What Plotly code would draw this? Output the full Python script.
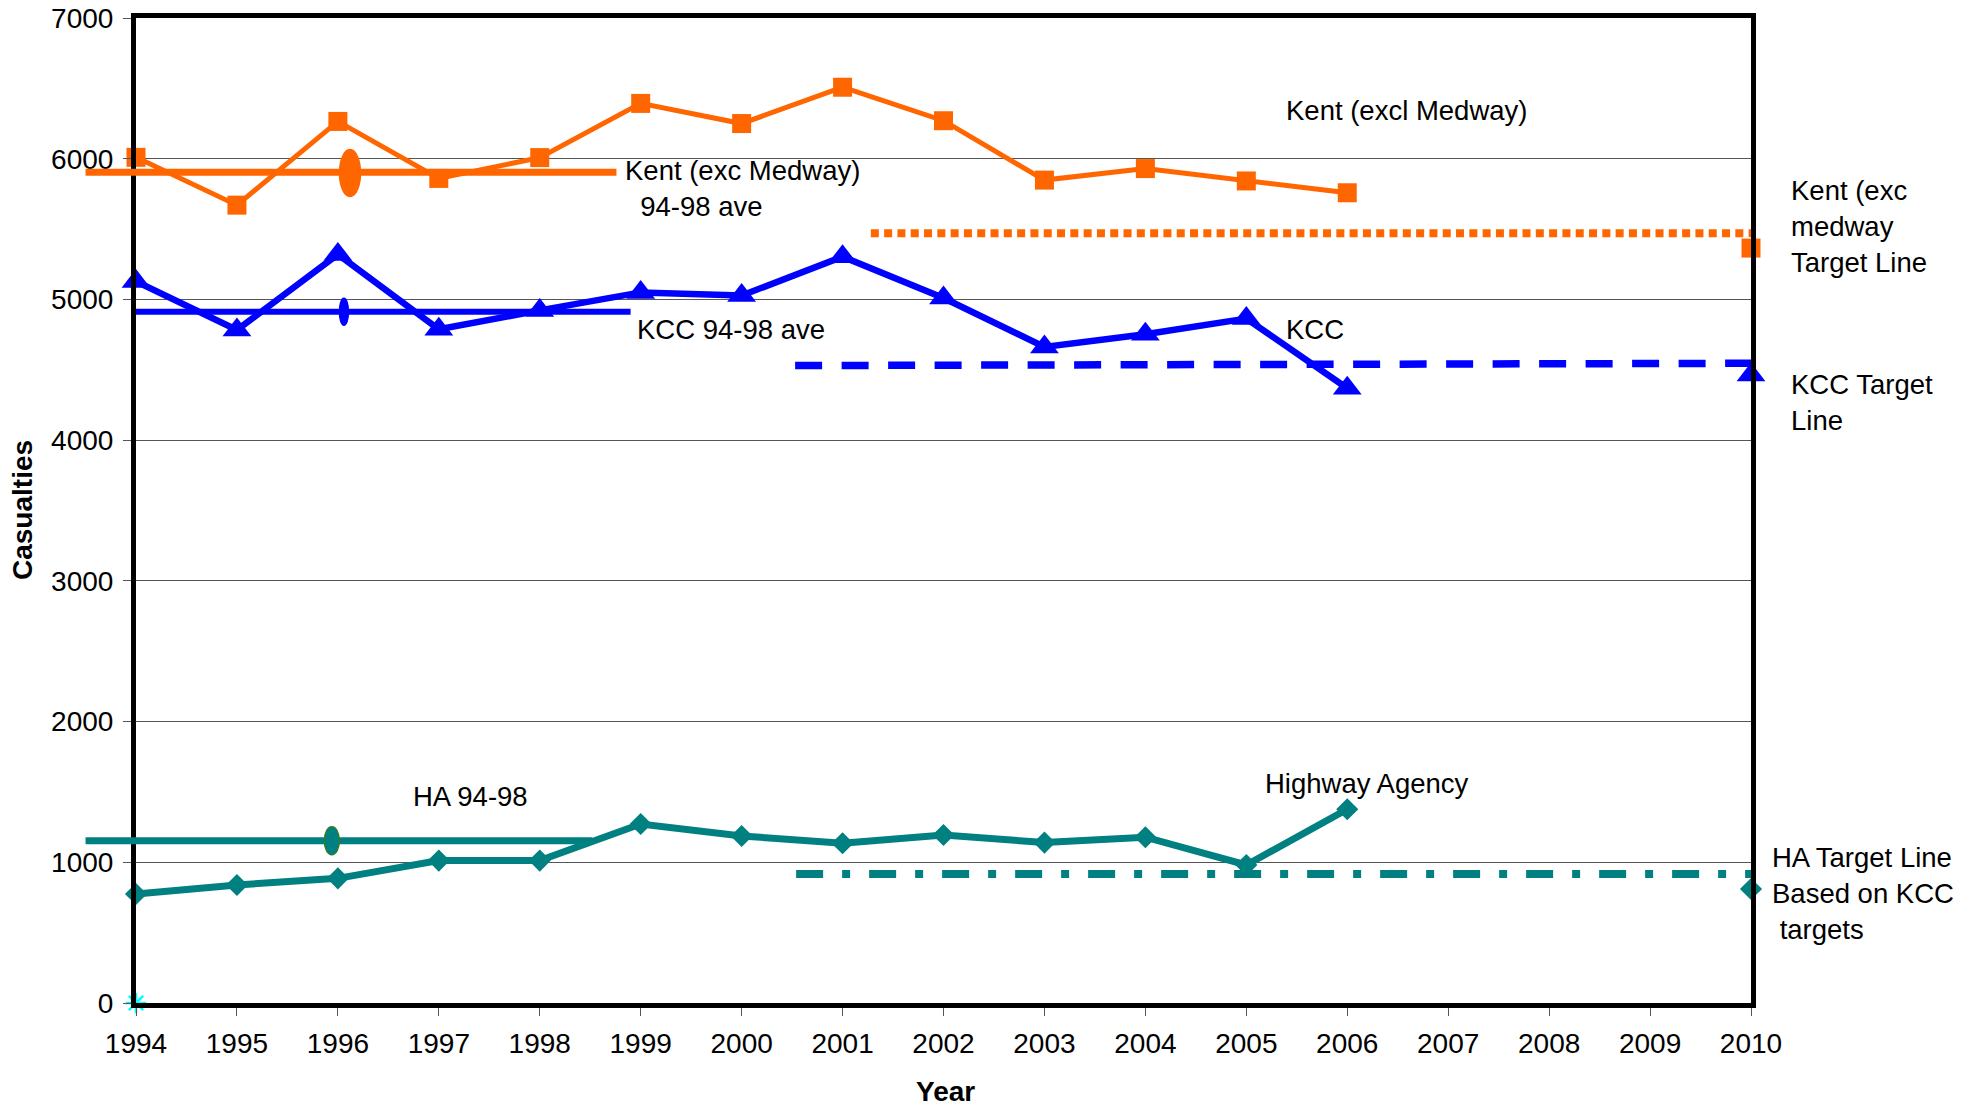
import plotly.graph_objects as go

# ---------------- data ----------------
years = list(range(1994, 2007))
kent = [6010, 5670, 6265, 5860, 6008, 6393, 6250, 6508, 6270, 5848, 5930, 5842, 5758]
kcc = [5128, 4783, 5320, 4788, 4922, 5050, 5028, 5304, 5010, 4662, 4752, 4864, 4369]
ha = [775, 839, 886, 1012, 1012, 1272, 1187, 1135, 1194, 1140, 1178, 981, 1377]

target_year = [2010]
kent_target_point = [5365]
kcc_target_point = [4463]
ha_target_point = [810]

kent_target_line_x = [2001.28, 2010]
kent_target_line_y = [5470, 5470]
kcc_target_line_x = [2000.53, 2010]
kcc_target_line_y = [4530, 4546]
ha_target_line_x = [2000.54, 2010]
ha_target_line_y = [917, 917]

kent_ave_x = [1993.5, 1998.76]
kent_ave_y = [5903, 5903]
kcc_ave_x = [1994.0, 1998.9]
kcc_ave_y = [4913, 4913]
ha_ave_x = [1993.5, 1998.52]
ha_ave_y = [1153, 1153]

ave_mark_x = [1996.12, 1996.06, 1995.94]
ave_mark_y = [5898, 4913, 1153]

origin_x = [1994]
origin_y = [0]

x_ticks = list(range(1994, 2011))
y_ticks = [0, 1000, 2000, 3000, 4000, 5000, 6000, 7000]

# ---------------- styling ----------------
ORANGE = "#FF6600"
BLUE = "#0000FF"
TEAL = "#008080"
FONT = "Liberation Sans, Arial, sans-serif"

W, H = 1978, 1108
L_PX, R_PX, T_PX, B_PX = 136, 1751, 18, 1003
EXT_L_PX = 60
px_per_year = (R_PX - L_PX) / (x_ticks[-1] - x_ticks[0])

SQ, TRI, DIA = 19, 25, 17

fig = go.Figure()

# 94-98 averages (on a wider, hidden subplot so they can extend left of the axis)
fig.add_trace(go.Scatter(x=kent_ave_x, y=kent_ave_y, mode="lines",
                         line=dict(color=ORANGE, width=7), xaxis="x2", yaxis="y2"))
fig.add_trace(go.Scatter(x=kcc_ave_x, y=kcc_ave_y, mode="lines",
                         line=dict(color=BLUE, width=6), xaxis="x2", yaxis="y2"))
fig.add_trace(go.Scatter(x=ha_ave_x, y=ha_ave_y, mode="lines",
                         line=dict(color=TEAL, width=7), xaxis="x2", yaxis="y2"))

# target lines
fig.add_trace(go.Scatter(x=kent_target_line_x, y=kent_target_line_y, mode="lines",
                         line=dict(color=ORANGE, width=8, dash="8px,5.3px"),
                         xaxis="x", yaxis="y"))
fig.add_trace(go.Scatter(x=kcc_target_line_x, y=kcc_target_line_y, mode="lines",
                         line=dict(color=BLUE, width=7.5, dash="27px,19.5px"),
                         xaxis="x", yaxis="y"))
fig.add_trace(go.Scatter(x=ha_target_line_x, y=ha_target_line_y, mode="lines",
                         line=dict(color=TEAL, width=8, dash="27px,19px,8px,19px"),
                         xaxis="x", yaxis="y"))

# main data lines
fig.add_trace(go.Scatter(x=years, y=kent, mode="lines+markers",
                         line=dict(color=ORANGE, width=5),
                         marker=dict(symbol="square", size=SQ, color=ORANGE, line=dict(width=0)),
                         cliponaxis=False, xaxis="x", yaxis="y"))
fig.add_trace(go.Scatter(x=years, y=kcc, mode="lines+markers",
                         line=dict(color=BLUE, width=6.5),
                         marker=dict(symbol="triangle-up", size=TRI, color=BLUE, line=dict(width=0)),
                         cliponaxis=False, xaxis="x", yaxis="y"))
fig.add_trace(go.Scatter(x=years, y=ha, mode="lines+markers",
                         line=dict(color=TEAL, width=7),
                         marker=dict(symbol="diamond", size=DIA, color=TEAL, line=dict(width=0)),
                         cliponaxis=False, xaxis="x", yaxis="y"))

# target points at 2010
fig.add_trace(go.Scatter(x=target_year, y=kent_target_point, mode="markers",
                         marker=dict(symbol="square", size=SQ, color=ORANGE, line=dict(width=0)),
                         cliponaxis=False, xaxis="x", yaxis="y"))
fig.add_trace(go.Scatter(x=target_year, y=kcc_target_point, mode="markers",
                         marker=dict(symbol="triangle-up", size=TRI, color=BLUE, line=dict(width=0)),
                         cliponaxis=False, xaxis="x", yaxis="y"))
fig.add_trace(go.Scatter(x=target_year, y=ha_target_point, mode="markers",
                         marker=dict(symbol="diamond", size=DIA, color=TEAL, line=dict(width=0)),
                         cliponaxis=False, xaxis="x", yaxis="y"))

# origin star
fig.add_trace(go.Scatter(x=origin_x, y=origin_y, mode="markers",
                         marker=dict(symbol="asterisk-open", size=17, color="#00FFFF",
                                     line=dict(color="#00FFFF", width=2.5)),
                         cliponaxis=False, xaxis="x", yaxis="y"))

# ellipse markers on the averages
ell_w_px = [21, 9, 15]
ell_h_px = [47, 27, 28]
ell_fill = [ORANGE, BLUE, TEAL]
ell_line = [ORANGE, BLUE, "#2E7D32"]
y_per_px = (y_ticks[-1] - y_ticks[0]) / (B_PX - T_PX)
for cx, cy, wp, hp, fc, lc in zip(ave_mark_x, ave_mark_y, ell_w_px, ell_h_px, ell_fill, ell_line):
    dx = wp / 2 / px_per_year
    dy = hp / 2 * y_per_px
    fig.add_shape(type="circle", xref="x2", yref="y2",
                  x0=cx - dx, x1=cx + dx, y0=cy - dy, y1=cy + dy,
                  fillcolor=fc, line=dict(color=lc, width=1.5), layer="above")

tick_font = dict(family=FONT, size=28, color="black")
fig.update_layout(
    template="none",
    width=W, height=H,
    margin=dict(l=0, r=0, t=0, b=0, pad=0, autoexpand=False),
    paper_bgcolor="white", plot_bgcolor="rgba(0,0,0,0)",
    showlegend=False,
    xaxis=dict(domain=[L_PX / W, R_PX / W], range=[x_ticks[0], x_ticks[-1]],
               tickvals=x_ticks, ticktext=[str(v) for v in x_ticks],
               ticks="outside", ticklen=8, tickwidth=1, tickcolor="#555555",
               showline=True, linecolor="black", linewidth=5, mirror=True,
               showgrid=False, zeroline=False, tickfont=tick_font, automargin=False,
               ticklabelstandoff=3, fixedrange=True),
    yaxis=dict(domain=[1 - B_PX / H, 1 - T_PX / H], range=[y_ticks[0], y_ticks[-1]],
               tickvals=y_ticks, ticktext=[str(v) for v in y_ticks],
               ticks="outside", ticklen=8, tickwidth=1, tickcolor="#555555",
               showline=True, linecolor="black", linewidth=5, mirror=True,
               showgrid=True, gridcolor="#555555", gridwidth=1.2, zeroline=False,
               tickfont=tick_font, ticklabelstandoff=4, automargin=False, fixedrange=True),
    xaxis2=dict(domain=[EXT_L_PX / W, R_PX / W],
                range=[x_ticks[0] - (L_PX - EXT_L_PX) / px_per_year, x_ticks[-1]],
                visible=False, anchor="y2", fixedrange=True, automargin=False),
    yaxis2=dict(domain=[1 - B_PX / H, 1 - T_PX / H], range=[y_ticks[0], y_ticks[-1]],
                visible=False, anchor="x2", fixedrange=True, automargin=False),
)

ann_font = dict(family=FONT, size=27.5, color="black")
# labels inside the plot (data coordinates)
labels_in = [
    ("Kent (excl Medway)", 2005.37, 6346),
    ("Kent (exc Medway)<br>\u00a0\u00a094-98 ave", 1998.82, 5785),
    ("KCC 94-98 ave", 1998.94, 4783),
    ("KCC", 2005.37, 4783),
    ("HA 94-98", 1996.72, 1471),
    ("Highway Agency", 2005.17, 1563),
]
for txt, lx, ly in labels_in:
    fig.add_annotation(text=txt, x=lx, y=ly, xref="x", yref="y",
                       xanchor="left", yanchor="middle", align="left",
                       showarrow=False, font=ann_font)
# labels to the right of the plot (x in paper units, y in data units)
labels_out = [
    ("Kent (exc<br>medway<br>Target Line", 1789, 5515),
    ("KCC Target<br>Line", 1789, 4271),
    ("HA Target Line<br>Based on KCC<br>\u00a0targets", 1770, 775),
]
for txt, lx_px, ly in labels_out:
    fig.add_annotation(text=txt, x=lx_px / W, y=ly, xref="paper", yref="y",
                       xanchor="left", yanchor="middle", align="left",
                       showarrow=False, font=ann_font)

title_font = dict(family=FONT, size=28, color="black")
fig.add_annotation(text="<b>Year</b>", x=945 / W, y=1 - 1091 / H, xref="paper", yref="paper",
                   xanchor="center", yanchor="middle", showarrow=False, font=title_font)
fig.add_annotation(text="<b>Casualties</b>", x=22 / W, y=1 - 510 / H, xref="paper", yref="paper",
                   xanchor="center", yanchor="middle", showarrow=False, textangle=-90,
                   font=title_font)

fig.write_html("out.html", config={"displayModeBar": False},
               post_script="document.body.style.margin='0';document.body.style.overflow='hidden';")
